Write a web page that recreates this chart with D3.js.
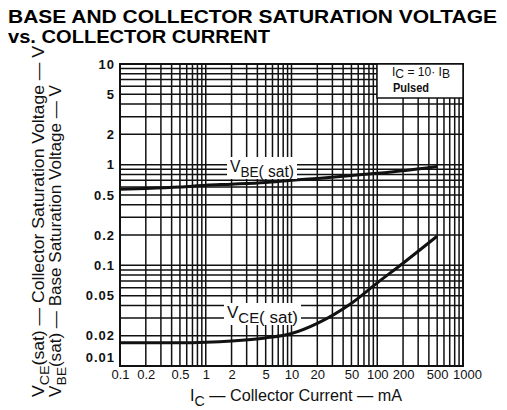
<!DOCTYPE html>
<html lang="en">
<head>
<meta charset="UTF-8">
<script src="https://d3js.org/d3.v7.min.js"></script>
<title>Saturation voltage vs collector current</title>
<style>
  body { margin: 0; background: #fff; }
  svg { display: block; font-family: "Liberation Sans", Arial, sans-serif; }
</style>
</head>
<body>
<script>
// collector current, mA
var ic = [0.1, 0.2, 0.5, 1, 2, 5, 10, 20, 50, 100, 200, 500];
// base-emitter saturation voltage, V
var vbe = [0.57, 0.58, 0.60, 0.625, 0.64, 0.665, 0.70, 0.73, 0.78, 0.82, 0.87, 0.96];
// collector-emitter saturation voltage, V
var vce = [0.017, 0.017, 0.017, 0.0172, 0.0177, 0.019, 0.021, 0.0265, 0.042, 0.067, 0.105, 0.195];

var xTicks = [0.1, 0.2, 0.5, 1, 2, 5, 10, 20, 50, 100, 200, 500, 1000];
var yTicks = [0.01, 0.02, 0.05, 0.1, 0.2, 0.5, 1, 2, 5, 10];

var w = 507, h = 410;
var pl = 120, pr = 463, pt = 64, pb = 366;

var svg = d3.select("body").append("svg")
    .attr("width", w).attr("height", h);

var x = d3.scaleLog().domain([0.1, 1000]).range([pl, pr]);
var y = d3.scaleLog().domain([0.01, 10]).range([pb, pt]);

// title
svg.append("text").attr("x", 8).attr("y", 23)
    .attr("font-size", 17.5).attr("font-weight", "bold")
    .attr("textLength", 489).attr("lengthAdjust", "spacingAndGlyphs")
    .text("BASE AND COLLECTOR SATURATION VOLTAGE");
svg.append("text").attr("x", 8).attr("y", 43)
    .attr("font-size", 17.5).attr("font-weight", "bold")
    .attr("textLength", 262).attr("lengthAdjust", "spacingAndGlyphs")
    .text("vs. COLLECTOR CURRENT");

// grid
var grid = svg.append("g").attr("stroke", "#111").attr("stroke-width", 1.5);
grid.selectAll("line.v").data(x.ticks()).enter().append("line")
    .attr("x1", function(d) { return x(d); }).attr("x2", function(d) { return x(d); })
    .attr("y1", pt).attr("y2", pb);
grid.selectAll("line.h").data(y.ticks()).enter().append("line")
    .attr("y1", function(d) { return y(d); }).attr("y2", function(d) { return y(d); })
    .attr("x1", pl).attr("x2", pr);

svg.append("rect").attr("x", pl).attr("y", pt)
    .attr("width", pr - pl).attr("height", pb - pt)
    .attr("fill", "none").attr("stroke", "#111").attr("stroke-width", 2);

// axes labels
var xAxis = svg.append("g").attr("transform", "translate(0," + pb + ")")
    .call(d3.axisBottom(x).tickValues(xTicks).tickSize(0).tickPadding(4)
        .tickFormat(function(d) { return d; }));
xAxis.select(".domain").remove();
xAxis.selectAll("text").attr("font-family", "'Liberation Sans', sans-serif")
    .attr("font-size", 13).attr("fill", "#111");
xAxis.selectAll(".tick").filter(function(d) { return d === 1000; })
    .select("text").attr("dx", 4);

var yAxis = svg.append("g").attr("transform", "translate(" + pl + ",0)")
    .call(d3.axisLeft(y).tickValues(yTicks).tickSize(0).tickPadding(5)
        .tickFormat(function(d) { return d; }));
yAxis.select(".domain").remove();
yAxis.selectAll("text").attr("font-family", "'Liberation Sans', sans-serif")
    .attr("font-size", 13).attr("font-weight", "bold").attr("letter-spacing", 1).attr("fill", "#111");
yAxis.selectAll(".tick").filter(function(d) { return d === 0.01; })
    .select("text").attr("dy", "-0.35em");

// curves
var line = d3.line().curve(d3.curveMonotoneX);
function pts(vals) { return ic.map(function(c, i) { return [x(c), y(vals[i])]; }); }
svg.append("path").attr("d", line(pts(vbe)))
    .attr("fill", "none").attr("stroke", "#111").attr("stroke-width", 3);
svg.append("path").attr("d", line(pts(vce)))
    .attr("fill", "none").attr("stroke", "#111").attr("stroke-width", 3);

// curve labels
function curveLabel(x0, y0, sub, bw) {
    svg.append("rect").attr("x", x0 - 3).attr("y", y0 - 15).attr("width", bw).attr("height", 22)
        .attr("fill", "#fff");
    var t = svg.append("text").attr("x", x0).attr("y", y0).attr("font-size", 16).attr("fill", "#111")
        .attr("textLength", bw - 6).attr("lengthAdjust", "spacingAndGlyphs");
    t.append("tspan").text("V");
    t.append("tspan").attr("dy", 5).attr("font-size", 14).text(sub);
    t.append("tspan").attr("dy", 0).text("( sat)");
}
curveLabel(230, 172, "BE", 70);
curveLabel(227, 318, "CE", 77);

// legend box
svg.append("rect").attr("x", 377).attr("y", pt).attr("width", pr - 377).attr("height", 34)
    .attr("fill", "#fff").attr("stroke", "#111").attr("stroke-width", 1.5);
var lg = svg.append("text").attr("x", 392).attr("y", 76).attr("font-size", 12).attr("fill", "#111")
    .attr("textLength", 58).attr("lengthAdjust", "spacingAndGlyphs");
lg.append("tspan").text("I");
lg.append("tspan").attr("dy", 2).text("C");
lg.append("tspan").attr("dy", -2).text(" = 10\u00b7 I");
lg.append("tspan").attr("dy", 2).text("B");
svg.append("text").attr("x", 393).attr("y", 92).attr("font-size", 12).attr("font-weight", "bold")
    .attr("textLength", 36).attr("lengthAdjust", "spacingAndGlyphs")
    .attr("fill", "#111").text("Pulsed");

// x title
var xt = svg.append("text").attr("x", 190).attr("y", 401).attr("font-size", 16).attr("fill", "#111")
    .attr("textLength", 212).attr("lengthAdjust", "spacingAndGlyphs");
xt.append("tspan").text("I");
xt.append("tspan").attr("dy", 5).attr("font-size", 14).text("C");
xt.append("tspan").attr("dy", -5).text(" \u2014 Collector  Current \u2014 mA");

// y titles (rotated)
function yTitle(bx, sub, rest, len) {
    var t = svg.append("text").attr("transform", "translate(" + bx + ",397) rotate(-90)")
        .attr("font-size", 16).attr("fill", "#111")
        .attr("textLength", len).attr("lengthAdjust", "spacingAndGlyphs");
    t.append("tspan").text("V");
    t.append("tspan").attr("dy", 5).attr("font-size", 13).text(sub);
    t.append("tspan").attr("dy", -5).text(rest);
}
yTitle(44, "CE", "(sat) \u2014 Collector  Saturation  Voltage \u2014 V", 351);
yTitle(61, "BE", "(sat) \u2014 Base  Saturation  Voltage \u2014 V", 312);
</script>
</body>
</html>
